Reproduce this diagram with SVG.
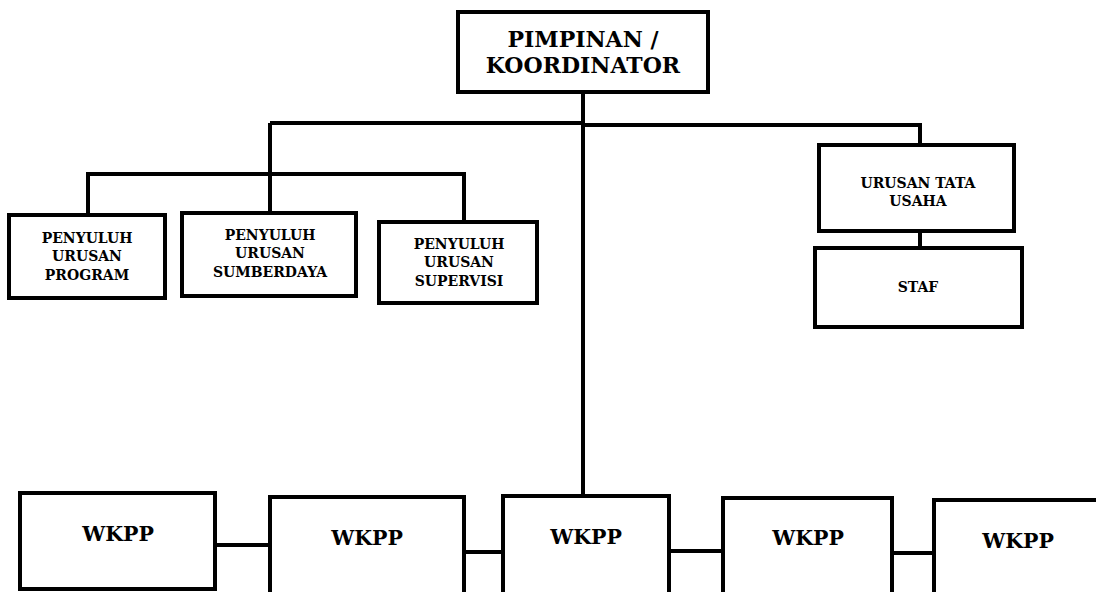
<svg xmlns="http://www.w3.org/2000/svg" width="1096" height="592" viewBox="0 0 1096 592">
<style>
.box{fill:#fff;stroke:#000;stroke-width:4}
.ln{fill:none;stroke:#000;stroke-width:4}
text{font-family:"DejaVu Serif","Liberation Serif",serif;font-weight:bold;fill:#000;text-anchor:middle}
.t1{font-size:22px}
.t2{font-size:14px}
.t4{font-size:20.5px}
</style>
<rect width="1096" height="592" fill="#fff"/>
<g id="connectors">
<path class="ln" d="M583 92V496"/>
<path class="ln" d="M270 123H583M583 125H920V145"/>
<path class="ln" d="M270 123V213"/>
<path class="ln" d="M88 215V174H464V222"/>
<path class="ln" d="M920 231V248"/>
<path class="ln" d="M215 545H270M464 552H503M669 551H723M892 553H934"/>
</g>
<g id="pimpinan">
<rect class="box" x="458" y="12" width="250" height="80"/>
<text class="t1" x="583" y="47">PIMPINAN /</text>
<text class="t1" x="583" y="73">KOORDINATOR</text>
</g>
<g id="program">
<rect class="box" x="9" y="215" width="156" height="83"/>
<text class="t2" x="87" y="243">PENYULUH</text>
<text class="t2" x="87" y="261">URUSAN</text>
<text class="t2" x="87" y="280">PROGRAM</text>
</g>
<g id="sumberdaya">
<rect class="box" x="182" y="213" width="174" height="83"/>
<text class="t2" x="270" y="240">PENYULUH</text>
<text class="t2" x="270" y="258">URUSAN</text>
<text class="t2" x="270" y="277">SUMBERDAYA</text>
</g>
<g id="supervisi">
<rect class="box" x="379" y="222" width="158" height="81"/>
<text class="t2" x="459" y="249">PENYULUH</text>
<text class="t2" x="459" y="267">URUSAN</text>
<text class="t2" x="459" y="286">SUPERVISI</text>
</g>
<g id="tatausaha">
<rect class="box" x="819" y="145" width="195" height="86"/>
<text class="t2" x="918" y="188">URUSAN TATA</text>
<text class="t2" x="918" y="206">USAHA</text>
</g>
<g id="staf">
<rect class="box" x="815" y="248" width="207" height="79"/>
<text class="t2" x="918" y="292">STAF</text>
</g>
<g id="wkpp1">
<rect class="box" x="20" y="493" width="195" height="96"/>
<text class="t4" x="118" y="541">WKPP</text>
</g>
<g id="wkpp2">
<rect class="box" x="270" y="497" width="194" height="110"/>
<text class="t4" x="367" y="545">WKPP</text>
</g>
<g id="wkpp3">
<rect class="box" x="503" y="496" width="166" height="110"/>
<text class="t4" x="586" y="544">WKPP</text>
</g>
<g id="wkpp4">
<rect class="box" x="723" y="498" width="169" height="110"/>
<text class="t4" x="808" y="545">WKPP</text>
</g>
<g id="wkpp5">
<rect class="box" x="934" y="500" width="180" height="110"/>
<text class="t4" x="1018" y="548">WKPP</text>
</g>
</svg>
